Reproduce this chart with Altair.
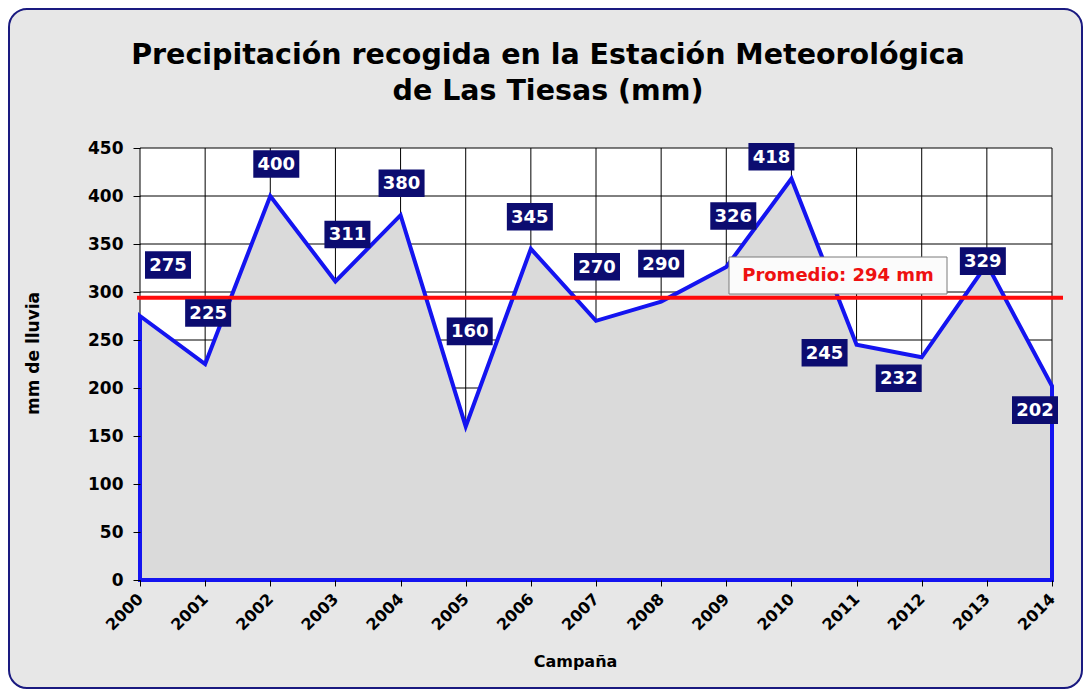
import altair as alt
import pandas as pd

# ---- data ----
years = list(range(2000, 2015))
rain_mm = [275, 225, 400, 311, 380, 160, 345, 270, 290, 326, 418, 245, 232, 329, 202]
# label box offsets from each point, in pixels (dx right, dy down)
label_dx = [28, 3, 6, 12, 1, 4, -1, 1, 0, 7, -20, -32, -23, -4, -17]
label_dy = [-51, -51, -32, -47, -32, -95, -32, -54, -38, -51, -22, 8, 21, -3, 24]
y_ticks = [0, 50, 100, 150, 200, 250, 300, 350, 400, 450]
title_lines = ["Precipitación recogida en la Estación Meteorológica", "de Las Tiesas (mm)"]

W, H = 912, 432
PX_PER_YEAR = W / (years[-1] - years[0])
PX_PER_MM = H / 450
avg = round(sum(rain_mm) / len(rain_mm))

FONT = "DejaVu Sans"
NAVY = "#0c0c70"
BLUE = "#1414f0"

df = pd.DataFrame({"year": years, "mm": rain_mm})
lab = pd.DataFrame({
    "lx": [y + dx / PX_PER_YEAR for y, dx in zip(years, label_dx)],
    "ly": [v - dy / PX_PER_MM for v, dy in zip(rain_mm, label_dy)],
    "txt": [str(v) for v in rain_mm],
})
grid_x = pd.DataFrame({"gx": years})
grid_y = pd.DataFrame({"gy": y_ticks})
avg_df = pd.DataFrame({"avg": [avg], "txt": [f"Promedio: {avg} mm"]})

xscale = alt.Scale(domain=[years[0], years[-1]], nice=False, zero=False)
yscale = alt.Scale(domain=[0, 450], nice=False)

# background rounded panel
bg = alt.Chart(pd.DataFrame({"k": [0]})).mark_rect(
    fill="#e7e7e7", stroke="#1a1a80", strokeWidth=2, cornerRadius=18
).encode(x=alt.value(-131), x2=alt.value(942), y=alt.value(-139), y2=alt.value(540))

plotbg = alt.Chart(pd.DataFrame({"k": [0]})).mark_rect(fill="white").encode(
    x=alt.value(0), x2=alt.value(W), y=alt.value(0), y2=alt.value(H)
)

title1 = alt.Chart(pd.DataFrame({"t": [title_lines[0]]})).mark_text(
    font=FONT, fontSize=28.5, fontWeight="bold", color="black", align="center",
    baseline="alphabetic"
).encode(x=alt.value(408), y=alt.value(-84), text="t:N")

title2 = alt.Chart(pd.DataFrame({"t": [title_lines[1]]})).mark_text(
    font=FONT, fontSize=28.5, fontWeight="bold", color="black", align="center",
    baseline="alphabetic"
).encode(x=alt.value(408), y=alt.value(-48), text="t:N")

gx = alt.Chart(grid_x).mark_rule(color="black", strokeWidth=1).encode(
    x=alt.X("gx:Q", scale=xscale,
            axis=alt.Axis(values=years, format="d", labelAngle=-45, labelAlign="right",
                          labelBaseline="middle", labelFont=FONT, labelFontWeight="bold",
                          labelFontSize=16, labelColor="black", labelPadding=10,
                          tickColor="black", tickSize=6, domain=False, grid=False,
                          zindex=1,
                          title="Campaña", titleFont=FONT, titleFontSize=16,
                          titleFontWeight="bold", titleColor="black", titleX=435,
                          titleY=81, titleBaseline="middle", titleAlign="center")),
    y=alt.value(0), y2=alt.value(H)
)

gy = alt.Chart(grid_y).mark_rule(color="black", strokeWidth=1).encode(
    y=alt.Y("gy:Q", scale=yscale,
            axis=alt.Axis(values=y_ticks, labelFont=FONT, labelFontWeight="bold",
                          labelFontSize=17, labelColor="black", labelPadding=10,
                          tickColor="black", tickSize=7, domain=False, grid=False,
                          zindex=1,
                          title="mm de lluvia", titleFont=FONT, titleFontSize=17,
                          titleFontWeight="bold", titleColor="black", titleAngle=270,
                          titleX=-107, titleY=205, titleBaseline="middle",
                          titleAlign="center")),
    x=alt.value(0), x2=alt.value(W)
)

area = alt.Chart(df).mark_area(
    fill="#dadada", fillOpacity=1, stroke=BLUE, strokeWidth=4, strokeJoin="miter"
).encode(
    x=alt.X("year:Q", scale=xscale),
    y=alt.Y("mm:Q", scale=yscale),
)

avg_rule = alt.Chart(avg_df).mark_rule(color="#ff0a0a", strokeWidth=4).encode(
    y=alt.Y("avg:Q", scale=yscale), x=alt.value(-3), x2=alt.value(923)
)

avg_box = alt.Chart(pd.DataFrame({"k": [0]})).mark_rect(
    fill="#fbfbfb", stroke="#7a7a7a", strokeWidth=1
).encode(x=alt.value(589), x2=alt.value(807), y=alt.value(109), y2=alt.value(146))

avg_text = alt.Chart(avg_df).mark_text(
    font=FONT, fontSize=18, fontWeight="bold", color="#ee1111",
    align="center", baseline="middle"
).encode(x=alt.value(698), y=alt.value(128), text="txt:N")

boxes = alt.Chart(lab).mark_point(
    shape="M -1 -0.6 L 1 -0.6 L 1 0.6 L -1 0.6 Z", size=46 * 46,
    filled=True, fill=NAVY, opacity=1, strokeWidth=0
).encode(x=alt.X("lx:Q", scale=xscale), y=alt.Y("ly:Q", scale=yscale))

texts = alt.Chart(lab).mark_text(
    font=FONT, fontSize=18, fontWeight="bold", color="white",
    align="center", baseline="middle", dy=1
).encode(x=alt.X("lx:Q", scale=xscale), y=alt.Y("ly:Q", scale=yscale), text="txt:N")

chart = alt.layer(
    bg, plotbg, title1, title2, gx, gy, area, avg_rule, avg_box, avg_text, boxes, texts
).properties(
    width=W, height=H,
    autosize=alt.AutoSizeParams(type="none"),
    padding={"left": 132, "top": 140, "right": 31, "bottom": 110},
).configure(background="white").configure_view(stroke=None)

chart.save("out.html", embed_options={"renderer": "svg", "actions": False})
